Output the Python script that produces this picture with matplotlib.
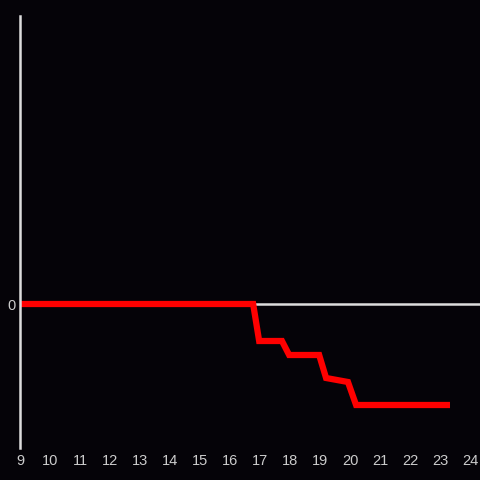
import matplotlib
matplotlib.use("Agg")
import matplotlib.pyplot as plt

# data (x in hours, y in arbitrary units)
hours = [9, 16.77, 16.97, 17.73, 17.97, 18.97, 19.2, 19.93, 20.2, 23.33]
values = [0, 0, -3.7, -3.7, -5.1, -5.1, -7.4, -7.8, -10.1, -10.1]
xticks = list(range(9, 25))

BG = "#050308"
AXIS = "#dddddd"
TEXT = "#cccccc"

plt.rcParams["font.family"] = ["Liberation Sans", "DejaVu Sans"]

fig = plt.figure(figsize=(4.8, 4.8), dpi=100, facecolor=BG)
ax = fig.add_axes([20 / 480, 32 / 480, 460 / 480, 432 / 480])
ax.set_facecolor(BG)

# zero line
ax.axhline(0, color=AXIS, lw=1.8, zorder=1)
ax.plot(hours, values, color="#ff0000", lw=4.5, solid_joinstyle="miter",
        solid_capstyle="butt", zorder=2)

ax.set_xlim(9, 24.33)
ax.set_ylim(-14.4, 28.8)
ax.set_xticks(xticks)
ax.set_xticklabels([str(t) for t in xticks])
ax.set_yticks([0])
ax.set_yticklabels(["0"])

for side in ["top", "right", "bottom"]:
    ax.spines[side].set_visible(False)
ax.spines["left"].set_color(AXIS)
ax.spines["left"].set_linewidth(1.8)

ax.tick_params(axis="x", length=0, pad=4.5, labelsize=10.5, colors=TEXT)
ax.tick_params(axis="y", length=0, pad=3, labelsize=10.5, colors=TEXT)

fig.savefig("out.png", dpi=100, facecolor=BG)
